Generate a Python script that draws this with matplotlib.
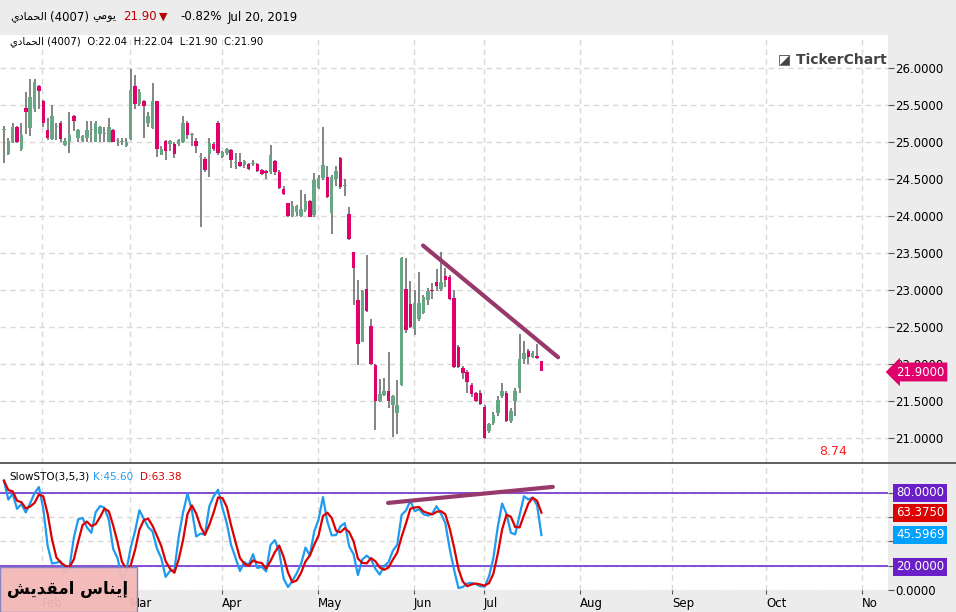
import numpy as np
import pandas as pd
import matplotlib
matplotlib.use("Agg")
import matplotlib.pyplot as plt

# =========================
# DATA (one candle per trading day)
# =========================
opens = [25.16, 24.84, 25.00, 25.20, 24.90, 25.46, 25.19, 25.44, 25.75, 25.55,
         25.16, 25.04, 25.20, 25.26, 24.96, 25.00, 25.35, 25.06, 25.01, 25.05,
         25.16, 25.00, 25.11, 25.11, 25.00, 25.16, 25.01, 25.00, 24.95, 25.04,
         25.76, 25.51, 25.55, 25.25, 25.19, 25.55, 24.83, 25.01, 24.97, 24.97,
         24.97, 25.00, 25.26, 25.10, 25.01, 24.80, 24.77, 24.84, 24.97, 25.26,
         24.80, 24.85, 24.89, 24.72, 24.73, 24.69, 24.70, 24.70, 24.70, 24.62,
         24.61, 24.59, 24.74, 24.60, 24.36, 24.17, 24.00, 24.05, 24.00, 24.08,
         24.20, 24.01, 24.38, 24.51, 24.53, 24.04, 24.50, 24.78, 24.40, 24.03,
         23.51, 22.86, 22.30, 23.01, 22.51, 21.99, 21.50, 21.58, 21.63, 21.44,
         21.33, 21.72, 23.01, 22.81, 22.47, 22.60, 22.69, 22.86, 23.00, 23.11,
         23.01, 23.19, 23.18, 22.89, 22.23, 21.95, 21.89, 21.72, 21.60, 21.61,
         21.42, 21.09, 21.20, 21.33, 21.56, 21.61, 21.23, 21.50, 21.68, 22.06,
         22.18, 22.09, 22.10, 22.04]
highs = [25.22, 25.05, 25.26, 25.22, 25.25, 25.67, 25.85, 25.85, 25.77, 25.57,
         25.32, 25.50, 25.25, 25.28, 25.06, 25.40, 25.37, 25.17, 25.10, 25.28,
         25.28, 25.28, 25.22, 25.20, 25.32, 25.18, 25.05, 25.05, 25.06, 25.99,
         25.90, 25.72, 25.57, 25.40, 25.80, 25.56, 24.95, 25.03, 25.03, 25.00,
         25.04, 25.35, 25.28, 25.12, 25.05, 24.85, 24.80, 25.05, 25.00, 25.28,
         24.88, 24.92, 24.90, 24.85, 24.85, 24.75, 24.71, 24.75, 24.71, 24.63,
         24.62, 24.96, 24.76, 24.62, 24.40, 24.18, 24.20, 24.15, 24.35, 24.30,
         24.21, 24.58, 24.55, 25.20, 24.68, 24.55, 24.68, 24.80, 24.50, 24.12,
         23.51, 23.13, 23.00, 23.47, 22.61, 22.00, 21.80, 21.81, 22.16, 21.58,
         21.78, 23.44, 23.43, 23.12, 23.00, 23.24, 22.93, 23.03, 23.10, 23.28,
         23.51, 23.29, 23.20, 23.00, 22.25, 21.97, 21.92, 21.74, 21.62, 21.65,
         21.44, 21.20, 21.35, 21.56, 21.74, 21.63, 21.40, 21.67, 22.41, 22.31,
         22.20, 22.18, 22.27, 22.04]
lows = [24.71, 24.82, 24.98, 24.98, 24.88, 25.11, 25.08, 25.40, 25.45, 25.20,
        25.02, 25.02, 25.03, 25.00, 24.95, 24.85, 25.15, 25.00, 25.00, 25.00,
        25.00, 25.00, 25.00, 25.00, 25.00, 25.00, 24.95, 24.96, 24.93, 25.02,
        25.45, 25.48, 25.05, 25.20, 25.17, 24.80, 24.82, 24.75, 24.88, 24.78,
        24.95, 24.98, 25.04, 24.95, 24.85, 23.85, 24.60, 24.52, 24.88, 24.83,
        24.78, 24.83, 24.65, 24.63, 24.66, 24.65, 24.62, 24.68, 24.60, 24.55,
        24.50, 24.57, 24.55, 24.36, 24.28, 23.99, 23.99, 24.00, 23.99, 24.05,
        23.98, 23.99, 24.36, 24.48, 24.24, 23.75, 24.40, 24.37, 24.27, 23.67,
        22.80, 21.98, 22.29, 22.70, 21.98, 21.11, 21.48, 21.57, 21.41, 21.01,
        21.05, 21.70, 22.42, 22.48, 22.39, 22.58, 22.67, 22.80, 22.88, 22.98,
        22.98, 23.04, 22.86, 21.95, 21.94, 21.80, 21.60, 21.55, 21.48, 21.44,
        20.98, 21.07, 21.18, 21.30, 21.54, 21.21, 21.20, 21.30, 21.60, 22.00,
        22.00, 22.08, 22.06, 21.90]
closes = [25.17, 25.01, 25.20, 25.00, 25.10, 25.40, 25.61, 25.81, 25.69, 25.25,
          25.05, 25.35, 25.20, 25.04, 25.01, 25.10, 25.29, 25.16, 25.08, 25.16,
          25.16, 25.26, 25.20, 25.11, 25.20, 25.00, 25.01, 25.00, 25.00, 25.70,
          25.51, 25.67, 25.48, 25.35, 25.55, 24.90, 24.90, 24.88, 25.01, 24.84,
          25.03, 25.26, 25.10, 25.10, 24.95, 24.80, 24.62, 24.99, 24.91, 24.85,
          24.86, 24.90, 24.75, 24.72, 24.68, 24.74, 24.64, 24.72, 24.61, 24.57,
          24.58, 24.82, 24.60, 24.38, 24.30, 24.00, 24.13, 24.13, 24.09, 24.20,
          23.99, 24.48, 24.51, 24.69, 24.26, 24.53, 24.61, 24.39, 24.40, 23.69,
          23.30, 22.27, 22.99, 22.72, 22.00, 21.50, 21.59, 21.64, 21.50, 21.57,
          21.44, 23.43, 22.46, 22.50, 22.82, 22.82, 22.90, 22.99, 22.98, 23.05,
          23.11, 23.13, 22.88, 21.96, 21.96, 21.88, 21.75, 21.59, 21.50, 21.46,
          21.00, 21.19, 21.31, 21.51, 21.63, 21.23, 21.36, 21.64, 22.07, 22.15,
          22.09, 22.15, 22.08, 21.90]

month_labels = ["Feb", "Mar", "Apr", "May", "Jun", "Jul", "Aug", "Sep", "Oct", "No"]
month_pos = [8.7, 28.8, 49.9, 71.9, 93.8, 109.8, 131.8, 152.9, 174.4, 196.3]

price_ticks = [21.0, 21.5, 22.0, 22.5, 23.0, 23.5, 24.0, 24.5, 25.0, 25.5, 26.0]
sto_ticks = [0, 20, 40, 60, 80]

# trend lines drawn by the user (bar index, value)
trend_price = ([95.9, 126.8], [23.60, 22.09])
trend_sto = ([87.9, 125.6], [71.8, 85.0])

GREEN = "#67a884"
RED = "#e0006b"
WICK = "#707070"
GRID = "#d9d9d9"
PURPLE = "#7b3fd6"
TREND = "#973a6b"
BG = "#ececec"

W, H = 956, 612


def fy(y):
    return 1 - y / H


def fx(x):
    return x / W


# =========================
# SLOW STOCHASTIC (3,5,3)
# =========================
df = pd.DataFrame({"o": opens, "h": highs, "l": lows, "c": closes})
hh = df["h"].rolling(5, min_periods=1).max()
ll = df["l"].rolling(5, min_periods=1).min()
fast = 100 * (df["c"] - ll) / (hh - ll)
k_line = fast.rolling(3, min_periods=1).mean()
d_line = k_line.rolling(3, min_periods=1).mean()

# =========================
# FIGURE
# =========================
fig = plt.figure(figsize=(W / 100, H / 100), dpi=100, facecolor=BG)
ax = fig.add_axes([0, fy(463), fx(888), (463 - 35) / H])
ax2 = fig.add_axes([0, fy(590), fx(888), (590 - 463) / H])

xlim = (-0.9, 202.3)
idx = np.arange(len(closes))

for a in (ax, ax2):
    a.set_facecolor("white")
    a.set_xlim(*xlim)
    for s in a.spines.values():
        s.set_visible(False)
    for m in month_pos:
        a.axvline(m, color=GRID, lw=1, ls=(0, (4, 3)), zorder=0)

# candles
o = np.array(opens)
c = np.array(closes)
up = c >= o
ax.vlines(idx, lows, highs, color=WICK, lw=1.2, zorder=2)
body_h = np.abs(c - o)
body_h = np.where(body_h < 0.012, 0.012, body_h)
ax.bar(idx, body_h, bottom=np.minimum(o, c), width=0.8,
       color=np.where(up, GREEN, RED), zorder=3)
ax.plot(*trend_price, color=TREND, lw=3, solid_capstyle="round", zorder=4)

ax.set_ylim(20.66, 26.446)
ax.set_yticks(price_ticks)
ax.yaxis.tick_right()
ax.set_yticklabels([f"{t:.4f}" for t in price_ticks], fontsize=8.5)
ax.tick_params(axis="y", length=4, pad=1, color="#555555", direction="out")
ax.tick_params(axis="x", bottom=False, labelbottom=False)
ax.grid(axis="y", color=GRID, ls=(0, (4, 3)), lw=1)
ax.text(193, 20.77, "8.74", color="#ff2020", fontsize=9, ha="right")

# stochastic panel
ax2.plot(idx, k_line, color="#1e9bf0", lw=1.6, zorder=3)
ax2.plot(idx, d_line, color="#dd0000", lw=1.6, zorder=4)
ax2.axhline(80, color=PURPLE, lw=1.3, zorder=2)
ax2.axhline(20, color=PURPLE, lw=1.3, zorder=2)
ax2.plot(*trend_sto, color=TREND, lw=3, solid_capstyle="round", zorder=5)
ax2.set_ylim(0, 104.7)
ax2.set_yticks(sto_ticks)
ax2.yaxis.tick_right()
ax2.set_yticklabels(["0.0000", "", "", "", ""], fontsize=8.5)
ax2.tick_params(axis="y", length=4, pad=1, color="#555555")
ax2.grid(axis="y", color=GRID, ls=(0, (4, 3)), lw=1)
ax2.set_xticks(month_pos)
ax2.set_xticklabels(month_labels, fontsize=8.5, ha="left")
ax2.tick_params(axis="x", length=3, pad=2, color="#555555")
ax2.text(0.01, 0.93, "SlowSTO(3,5,3)", transform=ax2.transAxes, fontsize=7.5, va="top")
ax2.text(0.105, 0.93, "K:45.60", transform=ax2.transAxes, fontsize=7.5, va="top", color="#1e9bf0")
ax2.text(0.158, 0.93, "D:63.38", transform=ax2.transAxes, fontsize=7.5, va="top", color="#dd0000")

# separator between the two panels
fig.add_artist(plt.Line2D([0, 1], [fy(463), fy(463)], color="#444444", lw=1.2))

# right-side value tags
def tag(y, text, color, style="square,pad=0.25"):
    fig.text(fx(896), fy(y), text, color="white", fontsize=8.5, va="center", zorder=20,
             bbox=dict(boxstyle=style, fc=color, ec="none"))

tag(372, "21.9000", RED, "larrow,pad=0.25")
tag(493, "80.0000", "#6a1fc8")
tag(513, "63.3750", "#dd0000")
tag(535, "45.5969", "#00a0ff")
tag(567, "20.0000", "#6a1fc8")

# header
AR = ["DejaVu Sans"]
fig.text(fx(10), fy(17), "\ufef1\ufea9\ufe8e\ufee4\ufea4\ufedf\ufe8d", fontsize=8, va="center", family=AR)
fig.text(fx(50), fy(17), "(4007)", fontsize=8.5, va="center")
fig.text(fx(92), fy(17), "\ufef2\ufee3\ufeee\ufef3", fontsize=8, va="center", family=AR)
fig.text(fx(123), fy(17), "21.90", fontsize=8.5, va="center", color="#c00000")
fig.text(fx(159), fy(17), "\u25bc", fontsize=8, va="center", color="#b00000")
fig.text(fx(180), fy(17), "-0.82%", fontsize=8.5, va="center")
fig.text(fx(228), fy(17), "Jul 20, 2019", fontsize=8.5, va="center")
fig.text(fx(10), fy(42), "\ufef1\ufea9\ufe8e\ufee4\ufea4\ufedf\ufe8d (4007)  O:22.04  H:22.04  L:21.90  C:21.90",
         fontsize=7.3, va="center", family=AR)
fig.text(fx(778), fy(59), "\u25ea TickerChart", fontsize=10, va="center",
         weight="bold", color="#444444")

# name box bottom-left
fig.add_artist(plt.Rectangle((0, 0), fx(137), (612 - 567) / H, transform=fig.transFigure,
                             fc="#f4b8b8", ec="#8080c0", lw=1, alpha=0.95, zorder=10))
fig.text(fx(68), fy(589), "\ufeb6\ufef3\ufeaa\ufed8\ufee3\ufe8d \ufeb1\ufe8e\ufee8\ufef3\ufe87",
         fontsize=12, weight="bold", ha="center", va="center", family=AR, zorder=11)

fig.savefig("out.png", dpi=100, facecolor=BG)
